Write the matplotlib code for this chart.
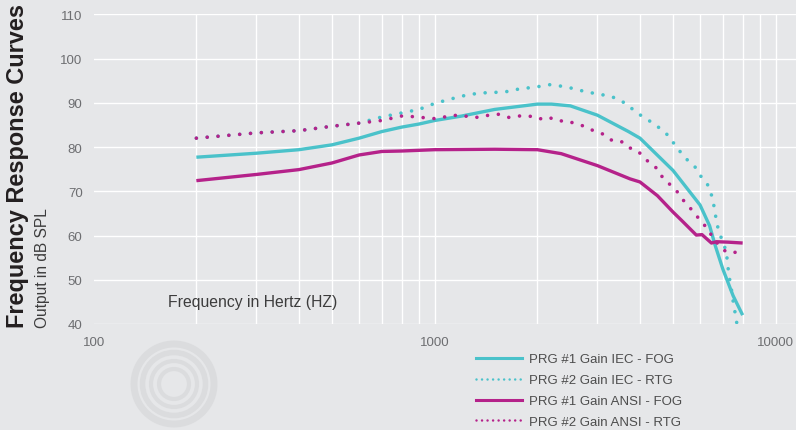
"""Frequency response curves (IEC / ANSI gain, FOG / RTG)."""

import matplotlib
matplotlib.use("Agg")
import matplotlib.pyplot as plt
from matplotlib.lines import Line2D
from matplotlib.patches import Arc

plt.rcParams["font.family"] = ["Liberation Sans", "DejaVu Sans"]

# PRG #1 Gain IEC - FOG
iec_fog_hz = [200, 300, 400, 500, 600, 700, 800, 900, 1000, 1200, 1500, 2000,
              2200, 2500, 3000, 3700, 4000, 5000, 6000, 6400, 6650, 7000, 7500, 8000]
iec_fog_db = [77.7, 78.6, 79.4, 80.5, 82.0, 83.5, 84.5, 85.2, 86.0, 87.0, 88.5, 89.7,
              89.7, 89.3, 87.2, 83.5, 82.0, 74.7, 66.9, 62.2, 57.7, 52.4, 46.4, 42.0]

# PRG #2 Gain IEC - RTG
iec_rtg_hz = [200, 300, 400, 500, 600, 700, 800, 900, 970, 1036, 1100, 1180, 1260,
              1350, 1450, 1550, 1660, 1780, 1900, 2030, 2180, 2330, 2490, 2670, 2860,
              3050, 3280, 3490, 3690, 3870, 4090, 4345, 4600, 4840, 5030, 5265, 5505,
              5800, 6000, 6280, 6450, 6560, 6640, 6710, 6830, 7180, 7210, 7280, 7350,
              7440, 7510, 7600, 7690]
iec_rtg_db = [82.0, 83.2, 83.7, 84.7, 85.4, 86.8, 87.7, 88.5, 89.5, 90.2, 90.7, 91.4,
              91.8, 92.2, 92.3, 92.4, 92.6, 93.2, 93.4, 93.7, 94.1, 93.8, 93.4, 92.8,
              92.3, 91.9, 91.5, 90.6, 89.5, 88.0, 86.8, 85.5, 84.1, 82.6, 80.8, 78.8,
              77.1, 75.5, 73.6, 71.9, 69.8, 67.5, 65.3, 62.9, 60.7, 56.2, 54.0, 51.7,
              49.4, 47.2, 44.9, 42.6, 40.2]

# PRG #1 Gain ANSI - FOG
ansi_fog_hz = [200, 300, 400, 500, 600, 700, 800, 1000, 1500, 2000, 2350, 3000, 3740,
               4000, 4500, 5000, 5300, 5850, 6080, 6480, 6700, 7250, 8000]
ansi_fog_db = [72.4, 73.8, 74.9, 76.4, 78.2, 79.0, 79.1, 79.4, 79.5, 79.4, 78.5, 75.8,
               72.8, 72.1, 69.0, 65.3, 63.4, 60.1, 60.2, 58.3, 58.6, 58.5, 58.3]

# PRG #2 Gain ANSI - RTG
ansi_rtg_hz = [200, 300, 400, 500, 600, 700, 800, 900, 970, 1030, 1110, 1190, 1270,
               1350, 1440, 1540, 1650, 1760, 1880, 2020, 2150, 2290, 2450, 2600, 2750,
               2920, 3100, 3290, 3510, 3690, 3890, 4070, 4260, 4500, 4660, 4870, 5100,
               5300, 5540, 5810, 6040, 6300, 6530, 6830, 7180, 7690]
ansi_rtg_db = [82.0, 83.2, 83.7, 84.7, 85.4, 86.0, 87.0, 86.8, 86.4, 86.5, 87.1, 87.2,
               86.8, 86.7, 87.2, 87.4, 86.7, 87.0, 87.1, 86.3, 86.8, 85.9, 85.9, 85.2,
               84.7, 83.7, 83.0, 81.6, 81.4, 79.9, 79.4, 78.1, 76.4, 75.1, 73.1, 71.7,
               70.3, 68.4, 66.7, 64.9, 63.1, 61.7, 59.6, 57.7, 56.2, 56.2]

labels = ["PRG #1 Gain IEC - FOG", "PRG #2 Gain IEC - RTG",
          "PRG #1 Gain ANSI - FOG", "PRG #2 Gain ANSI - RTG"]

bg = "#e6e7e9"
teal = "#4ac2ca"
magenta = "#b5228a"
dotted = (0, (0.01, 3))

fig = plt.figure(figsize=(7.96, 4.31), dpi=100, facecolor=bg)

# faint watermark swirl in the lower left
for r, lw in [(80, 5), (63, 4), (46, 3), (30, 3)]:
    fig.add_artist(Arc((174 / 796, 1 - 385 / 431), r / 796, r / 431,
                       transform=fig.transFigure, color="#dbdcde", lw=lw))
for r in [300, 330, 360]:
    fig.add_artist(Arc((175 / 796, 1 - 560 / 431), 2 * r / 796, 2 * r / 431,
                       theta1=120, theta2=175, transform=fig.transFigure,
                       color="#dddee0", lw=3))

ax = fig.add_axes([93.7 / 796, 1 - 325 / 431, 1 - 93.7 / 796, (325 - 15.3) / 431])
ax.set_facecolor(bg)
ax.set_xscale("log")
ax.set_xlim(100, 11470)
ax.set_ylim(40, 110)

ax.plot(iec_fog_hz, iec_fog_db, color=teal, lw=2.4, solid_capstyle="butt")
ax.plot(iec_rtg_hz, iec_rtg_db, color=teal, lw=2.6, ls=dotted, dash_capstyle="round")
ax.plot(ansi_fog_hz, ansi_fog_db, color=magenta, lw=2.4, solid_capstyle="butt")
ax.plot(ansi_rtg_hz, ansi_rtg_db, color=magenta, lw=2.6, ls=dotted, dash_capstyle="round")

ax.set_xticks([100, 1000, 10000])
ax.set_xticklabels(["100", "1000", "10000"])
ax.set_yticks(range(40, 111, 10))
ax.tick_params(which="both", length=0, colors="#6d6e71", labelsize=9.5)
ax.tick_params(axis="y", pad=8)
ax.tick_params(axis="x", pad=9)
ax.grid(True, which="both", axis="x", color="white", lw=1.0)
ax.grid(True, which="major", axis="y", color="white", lw=1.0)
ax.xaxis.get_major_ticks()[0].gridline.set_visible(False)
ax.set_axisbelow(True)
for s in ax.spines.values():
    s.set_visible(False)

ax.text(168 / 796, 1 - 303 / 431, "Frequency in Hertz (HZ)", transform=fig.transFigure,
        fontsize=11.3, color="#3c3c3c", va="center", ha="left")

fig.text(18 / 796, 1 - 328 / 431, "Frequency Response Curves", rotation=90,
         ha="center", va="bottom", fontsize=16.9, fontweight="bold", color="#231f20")
fig.text(43 / 796, 1 - 328 / 431, "Output in dB SPL", rotation=90,
         ha="center", va="bottom", fontsize=11.2, color="#3c3c3c")

handles = [
    Line2D([], [], color=teal, lw=2.2),
    Line2D([], [], color=teal, lw=1.8, ls=(0, (0.01, 2.2)), dash_capstyle="round"),
    Line2D([], [], color=magenta, lw=2.2),
    Line2D([], [], color=magenta, lw=1.8, ls=(0, (0.01, 2.2)), dash_capstyle="round"),
]
fig.legend(handles, labels, loc="upper left", bbox_to_anchor=(476 / 796, 1 - 354 / 431),
           frameon=False, fontsize=9.5, handlelength=3.5, handletextpad=0.5,
           labelspacing=0.66, borderpad=0, borderaxespad=0, labelcolor="#4d4d4d")

fig.savefig("out.png", dpi=100, facecolor=bg)
